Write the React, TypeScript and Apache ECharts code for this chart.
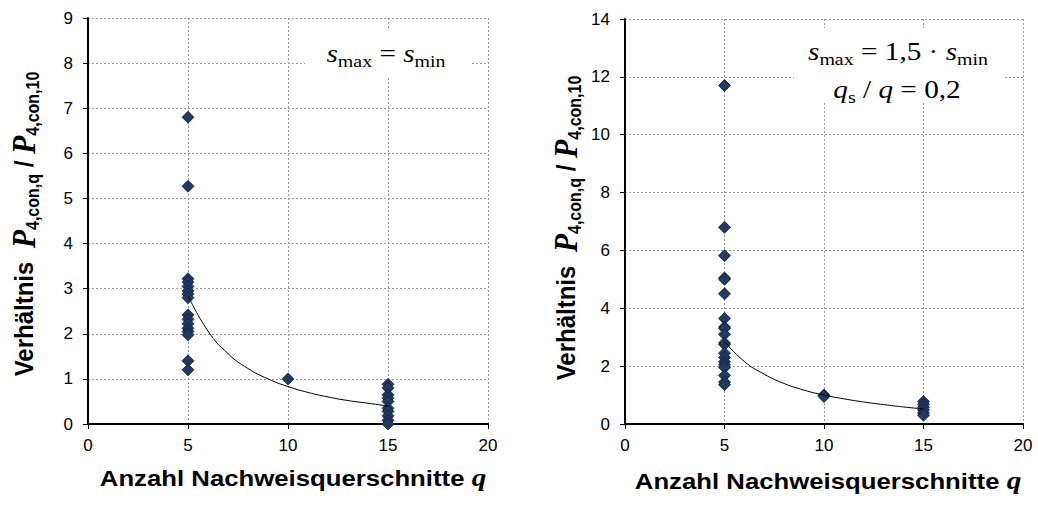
import React, { useEffect, useRef } from "react";
import * as echarts from "echarts";

// Left panel: s_max = s_min
const leftQ5 = [6.8, 5.27, 3.22, 3.15, 3.05, 2.95, 2.88, 2.8, 2.42, 2.32, 2.22, 2.12, 2.05, 1.98, 1.4, 1.2];
const leftQ10 = [1.0];
const leftQ15 = [0.88, 0.8, 0.65, 0.58, 0.5, 0.35, 0.28, 0.18, 0.08, 0.0];
const leftTrendX = [5, 6, 7, 8, 9, 10, 11, 12, 13, 14, 15];
const leftTrendY = [2.85, 2.06, 1.56, 1.23, 1.0, 0.83, 0.7, 0.6, 0.52, 0.46, 0.4];

// Right panel: s_max = 1,5 * s_min, q_s / q = 0,2
const rightQ5 = [11.7, 6.8, 5.82, 5.05, 5.0, 4.5, 3.65, 3.35, 3.3, 3.1, 2.8, 2.75, 2.45, 2.3, 2.15, 2.05, 1.95, 1.68, 1.45, 1.36];
const rightQ10 = [1.0, 0.95];
const rightQ15 = [0.78, 0.68, 0.58, 0.48, 0.38, 0.3];
const rightTrendX = [5, 6, 7, 8, 9, 10, 11, 12, 13, 14, 15];
const rightTrendY = [2.85, 2.16, 1.72, 1.4, 1.17, 1.0, 0.87, 0.76, 0.67, 0.59, 0.52];

const xTicks = { min: 0, max: 20, interval: 5 };
const leftY = { min: 0, max: 9, interval: 1 };
const rightY = { min: 0, max: 14, interval: 2 };

const MARK = "#1f3a63";

function pts(q: number, vals: number[]) {
  return vals.map((v) => [q, v]);
}

export default function App() {
  const ref = useRef<HTMLDivElement>(null);
  useEffect(() => {
    if (!ref.current) return;
    const chart = echarts.init(ref.current, null, { renderer: "svg" });
    const grids = [
      { left: 88, top: 18, width: 400, height: 406 },
      { left: 625, top: 19, width: 398, height: 405 },
    ];
    const splitStyle = { show: true, lineStyle: { color: "#9a9a9a", type: [2, 2] as any, width: 1 } };
    const xAxis = [0, 1].map((i) => ({
      type: "value",
      gridIndex: i,
      min: xTicks.min,
      max: xTicks.max,
      interval: xTicks.interval,
      axisLine: { show: true, onZero: false, lineStyle: { color: "#000", width: 2 } },
      axisTick: { show: true, length: 5, lineStyle: { color: "#000", width: 1 } },
      axisLabel: { color: "#000", fontSize: 17, fontFamily: "Liberation Sans, Arial", margin: 13 },
      splitLine: splitStyle,
    }));
    const yAxis = [leftY, rightY].map((r, i) => ({
      type: "value",
      gridIndex: i,
      min: r.min,
      max: r.max,
      interval: r.interval,
      axisLine: { show: true, onZero: false, lineStyle: { color: "#000", width: 2 } },
      axisTick: { show: true, length: 5, lineStyle: { color: "#000", width: 1 } },
      axisLabel: { color: "#000", fontSize: 17, fontFamily: "Liberation Sans, Arial", margin: 15 },
      splitLine: splitStyle,
    }));
    const scatter = (idx: number, data: number[][]) => ({
      type: "scatter",
      xAxisIndex: idx,
      yAxisIndex: idx,
      data,
      symbol: "diamond",
      symbolSize: [12, 12],
      itemStyle: { color: MARK, borderColor: "#0d1d36", borderWidth: 0.8, opacity: 1 },
      z: 3,
    });
    const trend = (idx: number, xs: number[], ys: number[]) => ({
      type: "line",
      xAxisIndex: idx,
      yAxisIndex: idx,
      data: xs.map((x, k) => [x, ys[k]]),
      smooth: 0.5,
      showSymbol: false,
      symbol: "none",
      lineStyle: { color: "#000", width: 1 },
      z: 4,
    });
    const serif = "Liberation Serif";
    const sans = "Liberation Sans, Arial, sans-serif";
    const yTitleRich = {
      a: { fontFamily: sans, fontWeight: "bold", fontSize: 24, lineHeight: 32, verticalAlign: "middle" },
      p: { fontFamily: serif, fontStyle: "italic", fontWeight: "bold", fontSize: 30, lineHeight: 32, verticalAlign: "middle" },
      sub: { fontFamily: sans, fontWeight: "bold", fontSize: 16, lineHeight: 18, verticalAlign: "bottom" },
    };
    const yTitleText = "{a|Verhältnis  }{p|P}{sub|4,con,q}{a| / }{p|P}{sub|4,con,10}";
    const xTitleRich = {
      a: { fontFamily: sans, fontWeight: "bold", fontSize: 22 },
      q: { fontFamily: serif, fontStyle: "italic", fontWeight: "bold", fontSize: 25 },
    };
    const annRich = {
      s: { fontFamily: serif, fontStyle: "italic", fontSize: 25, lineHeight: 32, verticalAlign: "middle" },
      n: { fontFamily: serif, fontSize: 25, lineHeight: 32, verticalAlign: "middle" },
      sub: { fontFamily: serif, fontSize: 17, lineHeight: 20, verticalAlign: "bottom" },
    };
    const SX = 1.17;
    chart.setOption({
      animation: false,
      grid: grids,
      xAxis,
      yAxis,
      series: [
        scatter(0, pts(5, leftQ5)),
        scatter(0, pts(10, leftQ10)),
        scatter(0, pts(15, leftQ15)),
        trend(0, leftTrendX, leftTrendY),
        scatter(1, pts(5, rightQ5)),
        scatter(1, pts(10, rightQ10)),
        scatter(1, pts(15, rightQ15)),
        trend(1, rightTrendX, rightTrendY),
      ],
      graphic: [
        { type: "rect", shape: { x: 305, y: 30, width: 165, height: 47 }, style: { fill: "#fff" }, z: 10 },
        {
          type: "text",
          x: 386,
          y: 54,
          scaleX: SX,
          z: 11,
          style: { text: "{s|s}{sub|max}{n| = }{s|s}{sub|min}", rich: annRich, align: "center", verticalAlign: "middle" },
        },
        { type: "rect", shape: { x: 794, y: 28, width: 209, height: 75 }, style: { fill: "#fff" }, z: 10 },
        {
          type: "text",
          x: 898,
          y: 52,
          scaleX: SX,
          z: 11,
          style: { text: "{s|s}{sub|max}{n| = 1,5 · }{s|s}{sub|min}", rich: annRich, align: "center", verticalAlign: "middle" },
        },
        {
          type: "text",
          x: 897,
          y: 90,
          scaleX: SX,
          z: 11,
          style: { text: "{s|q}{sub|s}{n| / }{s|q}{n| = 0,2}", rich: annRich, align: "center", verticalAlign: "middle" },
        },
        {
          type: "text",
          x: 24,
          y: 224,
          rotation: Math.PI / 2,
          scaleY: 1.1,
          z: 11,
          style: { text: yTitleText, rich: yTitleRich, align: "center", verticalAlign: "middle" },
        },
        {
          type: "text",
          x: 566,
          y: 228,
          rotation: Math.PI / 2,
          scaleY: 1.1,
          z: 11,
          style: { text: yTitleText, rich: yTitleRich, align: "center", verticalAlign: "middle" },
        },
        {
          type: "text",
          x: 293,
          y: 478,
          scaleX: SX,
          z: 11,
          style: { text: "{a|Anzahl Nachweisquerschnitte }{q|q}", rich: xTitleRich, align: "center", verticalAlign: "middle" },
        },
        {
          type: "text",
          x: 828,
          y: 481,
          scaleX: SX,
          z: 11,
          style: { text: "{a|Anzahl Nachweisquerschnitte }{q|q}", rich: xTitleRich, align: "center", verticalAlign: "middle" },
        },
      ],
    });
    return () => chart.dispose();
  }, []);
  return (
    <div
      ref={ref}
      style={{ position: "fixed", left: 0, top: 0, width: 1038, height: 505, background: "#fff" }}
    />
  );
}
